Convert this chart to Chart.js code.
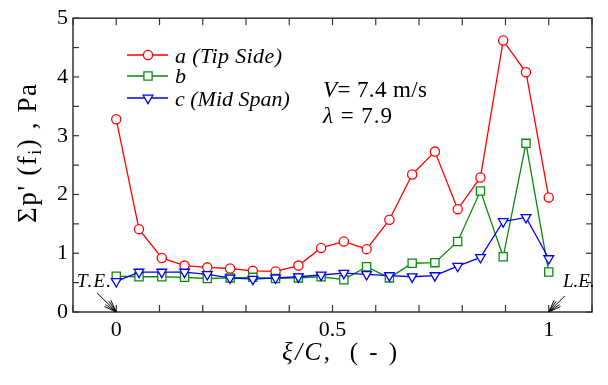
<!DOCTYPE html>
<html><head><meta charset="utf-8">
<script src="https://cdn.jsdelivr.net/npm/chart.js@4/dist/chart.umd.min.js"></script>
<style>html,body{margin:0;padding:0;background:#fff}canvas{display:block}</style>
</head><body>
<canvas id="c" width="608" height="385"></canvas>
<script>
const xi = [0, 0.0526, 0.1053, 0.1579, 0.2105, 0.2632, 0.3158, 0.3684, 0.4211, 0.4737, 0.5263, 0.5789, 0.6316, 0.6842, 0.7368, 0.7895, 0.8421, 0.8947, 0.9474, 1];
const seriesA = [3.28, 1.41, 0.92, 0.79, 0.76, 0.74, 0.70, 0.69, 0.79, 1.09, 1.20, 1.07, 1.57, 2.34, 2.73, 1.75, 2.29, 4.62, 4.08, 1.95];
const seriesB = [0.61, 0.60, 0.60, 0.59, 0.57, 0.58, 0.59, 0.57, 0.58, 0.60, 0.55, 0.77, 0.58, 0.83, 0.84, 1.20, 2.06, 0.94, 2.87, 0.68];
const seriesC = [0.52, 0.68, 0.68, 0.68, 0.64, 0.58, 0.56, 0.58, 0.60, 0.63, 0.66, 0.64, 0.62, 0.60, 0.62, 0.78, 0.93, 1.54, 1.61, 0.91];
const legendLabels = ['a (Tip Side)', 'b', 'c (Mid Span)'];
const xLabelTicks = [0, 0.5, 1];
const yLabelTicks = [0, 1, 2, 3, 4, 5];

const SERIF = '"Liberation Serif", "Times New Roman", serif';
function pts(ys){ return ys.map((y,i)=>({x:xi[i], y})); }

const datasets = [
  {label:legendLabels[0], data:pts(seriesA), borderColor:'#ff0000', pointBorderColor:'#ff0000', pointStyle:'circle', pointRadius:4.6, order:3},
  {label:legendLabels[1], data:pts(seriesB), borderColor:'#0a8a0a', pointBorderColor:'#0a8a0a', pointStyle:'rect', pointRadius:5.8, order:2},
  {label:legendLabels[2], data:pts(seriesC), borderColor:'#0000ff', pointBorderColor:'#0000ff', pointStyle:'triangle', pointRotation:180, pointRadius:5.6, order:1}
].map(d=>Object.assign({showLine:true, borderWidth:1.3, pointBorderWidth:1.3, backgroundColor:'#ffffff', pointBackgroundColor:'#ffffff', tension:0}, d));

function rich(ctx, segs, x, y, target, align){
  ctx.letterSpacing = '0px';
  let nat = 0, n = 0;
  segs.forEach(s=>{ ctx.font = s[1]; nat += ctx.measureText(s[0]).width; n += s[0].length; });
  const ls = target ? Math.max(0, (target - nat) / Math.max(1, n - 1)) : 0;
  const tot = nat + ls * (n - 1);
  let cx = align === 'center' ? x - tot/2 : x;
  ctx.textAlign = 'left'; ctx.textBaseline = 'alphabetic';
  segs.forEach(s=>{
    ctx.font = s[1];
    ctx.letterSpacing = ls + 'px';
    ctx.fillText(s[0], cx, y + (s[2]||0));
    ctx.letterSpacing = '0px';
    cx += ctx.measureText(s[0]).width + ls * s[0].length;
  });
  ctx.letterSpacing = '0px';
}

function arrow(ctx, x0, y0, x1, y1){
  ctx.beginPath(); ctx.moveTo(x0,y0); ctx.lineTo(x1,y1); ctx.stroke();
  const a = Math.atan2(y1-y0, x1-x0);
  [-0.35, -0.18, 0.18, 0.35].forEach(da=>{
    ctx.beginPath();
    ctx.moveTo(x1,y1);
    ctx.lineTo(x1 - 13*Math.cos(a+da), y1 - 13*Math.sin(a+da));
    ctx.stroke();
  });
}

const decor = {
  id:'decor',
  afterDraw(chart){
    const ctx = chart.ctx, ca = chart.chartArea;
    const xs = chart.scales.x, ys = chart.scales.y;
    ctx.save();
    ctx.strokeStyle = '#333'; ctx.lineWidth = 1.5;
    ctx.strokeRect(ca.left, ca.top, ca.right-ca.left, ca.bottom-ca.top);
    ctx.lineWidth = 1.2; ctx.strokeStyle='#333';
    xs.ticks.forEach(t=>{
      const px = xs.getPixelForValue(t.value);
      ctx.beginPath(); ctx.moveTo(px, ca.bottom); ctx.lineTo(px, ca.bottom-7); ctx.stroke();
      ctx.beginPath(); ctx.moveTo(px, ca.top); ctx.lineTo(px, ca.top+7); ctx.stroke();
    });
    ys.ticks.forEach(t=>{
      const py = ys.getPixelForValue(t.value);
      ctx.beginPath(); ctx.moveTo(ca.left, py); ctx.lineTo(ca.left+6, py); ctx.stroke();
      ctx.beginPath(); ctx.moveTo(ca.right, py); ctx.lineTo(ca.right-6, py); ctx.stroke();
    });
    // legend
    const rows = [55, 76, 98];
    const widths = [107, 0, 114];
    chart.data.datasets.forEach((ds,i)=>{
      const y = rows[i];
      ctx.strokeStyle = ds.borderColor; ctx.lineWidth = ds.borderWidth;
      ctx.beginPath(); ctx.moveTo(127,y); ctx.lineTo(168,y); ctx.stroke();
      ctx.fillStyle='#fff'; ctx.strokeStyle = ds.borderColor; ctx.lineWidth = ds.pointBorderWidth;
      Chart.helpers.drawPoint(ctx, {pointStyle:ds.pointStyle, rotation:ds.pointRotation||0, radius:ds.pointRadius, borderWidth:ds.pointBorderWidth}, 148, y);
      ctx.fillStyle='#000';
      rich(ctx, [[ds.label, 'italic 22px '+SERIF]], 175, [63,83,106][i], widths[i]);
    });
    // annotation
    ctx.fillStyle='#000';
    rich(ctx, [['V', 'italic 23px '+SERIF], ['= 7.4 m/s', '23px '+SERIF]], 323, 97, 104);
    rich(ctx, [['\u03BB', 'italic 23px '+SERIF], [' = 7.9', '23px '+SERIF]], 323, 123, 69);
    // T.E. / L.E.
    rich(ctx, [['T.E.', 'italic 19px '+SERIF]], 77, 287, 34);
    rich(ctx, [['L.E.', 'italic 19px '+SERIF]], 563, 287, 30);
    ctx.strokeStyle='#000'; ctx.lineWidth=1;
    const x0 = xs.getPixelForValue(0), x1 = xs.getPixelForValue(1);
    arrow(ctx, x0-19, ca.bottom-19, x0, ca.bottom);
    arrow(ctx, x1+16, ca.bottom-16, x1, ca.bottom);
    // x title
    rich(ctx, [['\u03BE/C', 'italic 25px '+SERIF], [',  ( - )', '25px '+SERIF]], 282, 360, 115);
    // y title
    ctx.save();
    ctx.translate(36, 153.5); ctx.rotate(-Math.PI/2);
    rich(ctx, [['\u03A3p\' (f', '27px '+SERIF], ['i', '18px '+SERIF, 5], [') , Pa', '27px '+SERIF]], 0, 0, 139, 'center');
    ctx.restore();
    ctx.restore();
  }
};

new Chart(document.getElementById('c'), {
  type:'scatter',
  data:{datasets},
  options:{
    responsive:false, animation:false, devicePixelRatio:1,
    layout:{padding:{top:16, right:16, left:0, bottom:0}},
    plugins:{legend:{display:false}, tooltip:{enabled:false}},
    scales:{
      x:{type:'linear', min:-0.1, max:1.1,
        afterFit(s){ s.height = 73; },
        border:{display:false}, grid:{display:false, drawTicks:false},
        ticks:{stepSize:0.1, autoSkip:false, maxRotation:0, padding:5, color:'#000', font:{family:SERIF, size:22},
          callback(v){ const r=Math.round(v*10)/10; return xLabelTicks.includes(r) ? String(r) : ''; }}},
      y:{type:'linear', min:0, max:5,
        afterFit(s){ s.width = 73; },
        border:{display:false}, grid:{display:false, drawTicks:false},
        ticks:{stepSize:0.5, autoSkip:false, padding:5, color:'#000', font:{family:SERIF, size:22},
          callback(v){ const r=Math.round(v*10)/10; return yLabelTicks.includes(r) ? String(r) : ''; }}}
    }
  },
  plugins:[decor]
});
</script>
</body></html>
